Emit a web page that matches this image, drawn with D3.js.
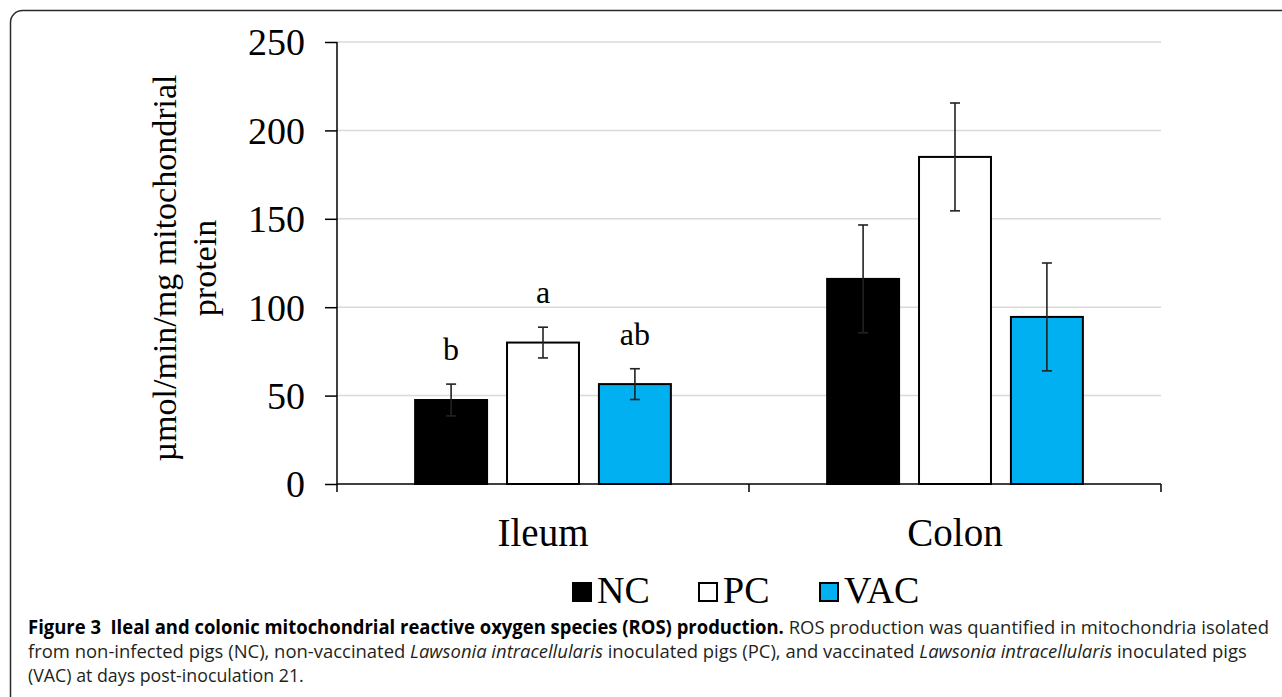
<!DOCTYPE html>
<html>
<head>
<meta charset="utf-8">
<script src="https://cdn.jsdelivr.net/npm/d3@7"></script>
<style>
    body { margin: 0; background: #fff; }
    svg { display: block; }
    .grid line { stroke: #d9d9d9; stroke-width: 1.5; }
    .tick-label { font-family: "Liberation Serif", "Times New Roman", serif; font-size: 38px; fill: #000; }
    .caption { font-family: "Open Sans", "Noto Sans", sans-serif; font-size: 19px; fill: #231f20; white-space: pre; }
</style>
</head>
<body>
<div id="chart"></div>
<script>

// chart data
const categories = ["Ileum", "Colon"];
const series = ["NC", "PC", "VAC"];
const ncValues = [47.5, 116];
const pcValues = [80, 185];
const vacValues = [56.5, 94.5];
const ncErrors = [9, 30.5];
const pcErrors = [8.7, 30.5];
const vacErrors = [8.7, 30.5];
const ileumLetters = ["b", "a", "ab"];
const yTicks = [0, 50, 100, 150, 200, 250];
const seriesColors = ["#000000", "#ffffff", "#00b0f0"];

const captionLines = [
    [{t: "Figure 3  Ileal and colonic mitochondrial reactive oxygen species (ROS) production.", b: true},
     {t: " ROS production was quantified in mitochondria isolated"}],
    [{t: "from non-infected pigs (NC), non-vaccinated "}, {t: "Lawsonia intracellularis", i: true},
     {t: " inoculated pigs (PC), and vaccinated "}, {t: "Lawsonia intracellularis", i: true},
     {t: " inoculated pigs"}],
    [{t: "(VAC) at days post-inoculation 21."}]
];

const values = [ncValues, pcValues, vacValues];
const errors = [ncErrors, pcErrors, vacErrors];
const rows = [];
categories.forEach((c, ci) => {
    series.forEach((s, si) => {
        rows.push({cat: c, key: s, value: values[si][ci], err: errors[si][ci],
            color: seriesColors[si], letter: ci === 0 ? ileumLetters[si] : ""});
    });
});

const W = 1282, H = 697;
const margin = {top: 42, right: 121, bottom: 213, left: 337};

const svg = d3.select("#chart").append("svg")
    .attr("width", W)
    .attr("height", H);

// figure frame (rounded, running off the right and bottom)
svg.append("rect")
    .attr("x", 10.5).attr("y", 10.5)
    .attr("width", 1320).attr("height", 740)
    .attr("rx", 12)
    .attr("fill", "none")
    .attr("stroke", "#2a2a2a")
    .attr("stroke-width", 1.5);

const x0 = d3.scaleBand()
    .domain(categories)
    .range([margin.left, W - margin.right]);

const x1 = d3.scaleBand()
    .domain(series)
    .range([0, x0.bandwidth()])
    .paddingInner(0.217)
    .paddingOuter(0.85);

const y = d3.scaleLinear()
    .domain([0, 250])
    .range([H - margin.bottom, margin.top]);

// gridlines
svg.append("g").attr("class", "grid")
    .selectAll("line")
    .data(yTicks.filter(d => d > 0))
    .join("line")
    .attr("x1", margin.left).attr("x2", W - margin.right)
    .attr("y1", d => y(d)).attr("y2", d => y(d));

// y axis
const yAxis = svg.append("g")
    .attr("transform", `translate(${margin.left},0)`)
    .call(d3.axisLeft(y).tickValues(yTicks).tickSize(12).tickPadding(20));
yAxis.select(".domain").attr("stroke", "#000").attr("stroke-width", 1.5)
    .attr("d", `M0,${y(250)}V${y(0) + 8}`);
yAxis.selectAll(".tick line").attr("stroke", "#000").attr("stroke-width", 1.5);
yAxis.selectAll(".tick text").attr("class", "tick-label").attr("dy", "0.34em");

// bars
const groups = svg.append("g").selectAll("g")
    .data(rows)
    .join("g")
    .attr("transform", d => `translate(${x0(d.cat) + x1(d.key)},0)`);

groups.append("rect")
    .attr("x", 0)
    .attr("y", d => y(d.value))
    .attr("width", x1.bandwidth())
    .attr("height", d => y(0) - y(d.value))
    .attr("fill", d => d.color)
    .attr("stroke", "#000")
    .attr("stroke-width", 2);

// error bars
const cx = x1.bandwidth() / 2;
groups.append("line")
    .attr("x1", cx).attr("x2", cx)
    .attr("y1", d => y(d.value + d.err)).attr("y2", d => y(d.value - d.err))
    .attr("stroke", "#222").attr("stroke-width", 1.6);
groups.append("line")
    .attr("x1", cx - 5).attr("x2", cx + 5)
    .attr("y1", d => y(d.value + d.err)).attr("y2", d => y(d.value + d.err))
    .attr("stroke", "#222").attr("stroke-width", 1.6);
groups.append("line")
    .attr("x1", cx - 5).attr("x2", cx + 5)
    .attr("y1", d => y(d.value - d.err)).attr("y2", d => y(d.value - d.err))
    .attr("stroke", "#222").attr("stroke-width", 1.6);

// significance letters
groups.append("text")
    .attr("x", cx)
    .attr("y", d => y(d.value + d.err) - 24)
    .attr("text-anchor", "middle")
    .style("font-family", "'Liberation Serif', serif")
    .style("font-size", "32px")
    .text(d => d.letter);

// x axis
const xAxisG = svg.append("g");
xAxisG.append("line")
    .attr("x1", margin.left).attr("x2", W - margin.right)
    .attr("y1", y(0)).attr("y2", y(0))
    .attr("stroke", "#000").attr("stroke-width", 1.5);
xAxisG.selectAll(".sep")
    .data(categories.slice(1).concat(["end"]))
    .join("line")
    .attr("class", "sep")
    .attr("x1", (d, i) => i < categories.length - 1 ? x0(d) : W - margin.right)
    .attr("x2", (d, i) => i < categories.length - 1 ? x0(d) : W - margin.right)
    .attr("y1", y(0)).attr("y2", y(0) + 8)
    .attr("stroke", "#000").attr("stroke-width", 1.5);
xAxisG.selectAll(".cat")
    .data(categories)
    .join("text")
    .attr("class", "cat")
    .attr("x", d => x0(d) + x0.bandwidth() / 2)
    .attr("y", 546)
    .attr("text-anchor", "middle")
    .style("font-family", "'Liberation Serif', serif")
    .style("font-size", "39px")
    .text(d => d);

// y axis title
const yTitle = svg.append("text")
    .attr("transform", "translate(176,268) rotate(-90)")
    .attr("text-anchor", "middle")
    .style("font-family", "'Liberation Serif', serif")
    .style("font-size", "34px");
yTitle.append("tspan").attr("x", 0).attr("y", 0).text("µmol/min/mg mitochondrial");
yTitle.append("tspan").attr("x", 0).attr("y", 40).text("protein");

// legend
const legendX = [572, 698, 819];
const legend = svg.append("g").selectAll("g")
    .data(series)
    .join("g")
    .attr("transform", (d, i) => `translate(${legendX[i]},583)`);
legend.append("rect")
    .attr("x", 1).attr("y", 0)
    .attr("width", 18).attr("height", 18)
    .attr("fill", (d, i) => seriesColors[i])
    .attr("stroke", "#000").attr("stroke-width", 2);
legend.append("text")
    .attr("x", 25).attr("y", 20)
    .style("font-family", "'Liberation Serif', serif")
    .style("font-size", "38px")
    .text(d => d);

// caption
const captionX = 28;
const captionBase = [634, 658, 682];
const captionWidth = [1242, 1219, 276];
captionLines.forEach((line, li) => {
    const t = svg.append("text")
        .attr("class", "caption");
    line.forEach(seg => {
        t.append("tspan")
            .style("font-weight", seg.b ? "700" : null)
            .style("font-style", seg.i ? "italic" : null)
            .style("fill", seg.b ? "#000" : null)
            .text(seg.t);
    });
    const len = t.node().getComputedTextLength();
    const sx = captionWidth[li] / len;
    t.attr("transform", `translate(${captionX},${captionBase[li]}) scale(${sx},1)`);
});

</script>
</body>
</html>
